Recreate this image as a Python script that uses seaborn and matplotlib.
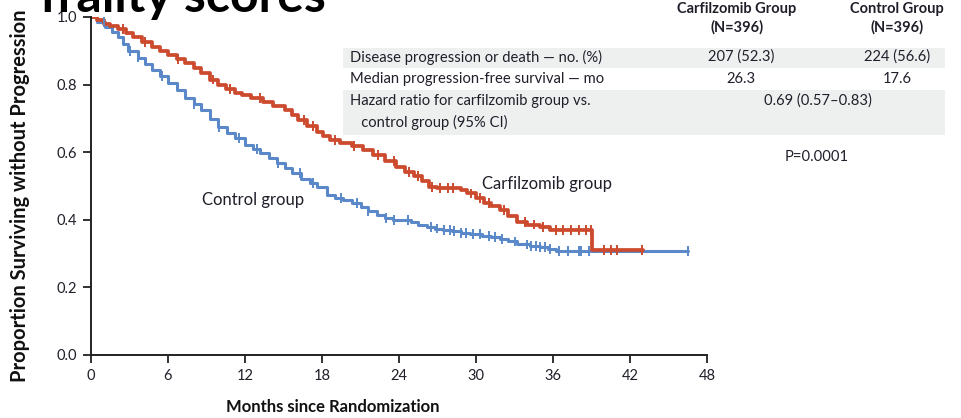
import numpy as np
import pandas as pd
import matplotlib
matplotlib.use("Agg")
import matplotlib.pyplot as plt
from matplotlib.patches import Rectangle
import seaborn as sns

# Kaplan-Meier step knots: months since randomization and survival proportion
carf_t = [0, 0.5, 1.0, 1.5, 2.1, 2.7, 3.3, 4.0, 4.75, 5.4, 6.0, 6.7, 7.3, 8.0, 8.6,
          9.3, 9.9, 10.5, 11.2, 11.8, 12.5, 13.4, 14.2, 15.1, 15.7, 16.1, 16.8,
          17.6, 18.1, 18.6, 19.4, 20.3, 21.2, 22.0, 22.9, 23.8, 24.5, 25.2, 25.8,
          26.3, 27.0, 27.5, 28.8, 29.3, 30.0, 30.6, 31.2, 31.9, 32.5, 33.2, 34.0,
          35.0, 35.8, 39.0, 43.0]
carf_s = [1.0, 0.99, 0.98, 0.972, 0.964, 0.952, 0.94, 0.926, 0.911, 0.899, 0.888,
          0.876, 0.864, 0.85, 0.835, 0.815, 0.80, 0.788, 0.776, 0.768, 0.76, 0.749,
          0.738, 0.725, 0.71, 0.695, 0.678, 0.66, 0.648, 0.636, 0.627, 0.618,
          0.606, 0.592, 0.575, 0.556, 0.542, 0.53, 0.515, 0.498, 0.495, 0.494,
          0.488, 0.478, 0.465, 0.45, 0.44, 0.429, 0.41, 0.393, 0.386, 0.378,
          0.37, 0.311, 0.311]

ctrl_t = [0, 0.5, 1.1, 1.6, 2.1, 2.5, 2.9, 3.7, 4.2, 4.75, 5.4, 6.0, 6.7, 7.3, 8.0,
          8.6, 9.3, 9.9, 10.6, 11.2, 12.0, 12.6, 13.2, 13.9, 14.5, 15.1, 15.7,
          16.4, 17.1, 17.6, 18.4, 19.0, 19.6, 20.3, 21.0, 21.6, 22.3, 22.9, 23.5,
          24.9, 25.5, 26.2, 26.8, 27.4, 28.1, 28.8, 29.5, 30.5, 31.2, 31.9, 32.5,
          33.2, 34.2, 35.0, 35.6, 36.2, 46.5]
ctrl_s = [1.0, 0.985, 0.97, 0.955, 0.94, 0.92, 0.90, 0.88, 0.862, 0.843, 0.825,
          0.805, 0.783, 0.76, 0.742, 0.725, 0.697, 0.675, 0.657, 0.642, 0.622,
          0.61, 0.598, 0.582, 0.568, 0.553, 0.538, 0.522, 0.509, 0.498, 0.473,
          0.465, 0.459, 0.449, 0.438, 0.426, 0.414, 0.405, 0.399, 0.393, 0.386,
          0.379, 0.374, 0.37, 0.366, 0.361, 0.358, 0.352, 0.348, 0.344, 0.336,
          0.327, 0.322, 0.32, 0.313, 0.307, 0.307]

# Censoring times (months)
carf_cens = [2.5, 4.2, 6.8, 9.5, 10.8, 13.2, 16.6, 17.3, 19.0, 20.5, 22.4, 23.6,
             24.8, 25.5, 26.6, 27.2, 27.8, 28.2, 29.6, 30.3, 31.0, 32.2, 33.8,
             34.5, 35.2, 36.2, 36.8, 37.4, 38.0, 38.6, 38.95, 40.0, 40.5, 41.0,
             42.9]
ctrl_cens = [1.0, 3.0, 3.7, 5.5, 8.0, 10.0, 11.5, 12.9, 14.6, 16.3, 17.3, 19.5,
             20.7, 21.6, 23.0, 23.6, 24.7, 26.5, 27.0, 27.5, 28.0, 28.3, 28.8,
             29.2, 29.8, 30.3, 31.0, 31.5, 32.0, 33.0, 34.0, 34.3, 34.7, 35.0,
             35.4, 35.8, 36.5, 37.2, 38.0, 38.2, 38.8, 46.5]

group_names = ["Carfilzomib group", "Control group"]
x_ticks = [0, 6, 12, 18, 24, 30, 36, 42, 48]
y_ticks = [0.0, 0.2, 0.4, 0.6, 0.8, 1.0]

table_header = ["Carfilzomib Group\n(N=396)", "Control Group\n(N=396)"]
table_rows = [
    ("Disease progression or death \u2014 no. (%)", "207 (52.3)", "224 (56.6)"),
    ("Median progression-free survival \u2014 mo", "26.3", "17.6"),
    ("Hazard ratio for carfilzomib group vs.\n   control group (95% CI)",
     "0.69 (0.57\u20130.83)", None),
]
p_value = "P=0.0001"

RED = "#cc4b2e"
BLUE = "#5a88c8"
INK = "#1f1f2a"

sns.set_style("ticks")
plt.rcParams["font.family"] = ["Lato", "DejaVu Sans"]

curves = pd.concat([
    pd.DataFrame({"months": ctrl_t, "surv": ctrl_s, "group": group_names[1]}),
    pd.DataFrame({"months": carf_t, "surv": carf_s, "group": group_names[0]}),
])


def step_value(times, surv, at):
    times = np.asarray(times)
    surv = np.asarray(surv)
    idx = np.searchsorted(times, at, side="right") - 1
    return surv[idx]


marks = pd.concat([
    pd.DataFrame({"months": ctrl_cens,
                  "surv": step_value(ctrl_t, ctrl_s, ctrl_cens),
                  "group": group_names[1]}),
    pd.DataFrame({"months": carf_cens,
                  "surv": step_value(carf_t, carf_s, carf_cens),
                  "group": group_names[0]}),
])

palette = {group_names[0]: RED, group_names[1]: BLUE}
widths = {group_names[0]: 2.7, group_names[1]: 2.2}

fig = plt.figure(figsize=(9.62, 4.18), dpi=100)
ax = fig.add_axes([91 / 962, 1 - 355 / 418, (707 - 91) / 962, (355 - 17) / 418])

for name in [group_names[1], group_names[0]]:
    sns.lineplot(data=curves[curves["group"] == name], x="months", y="surv",
                 color=palette[name], drawstyle="steps-post",
                 linewidth=widths[name], legend=False, ax=ax, estimator=None,
                 sort=False)
sns.scatterplot(data=marks, x="months", y="surv", hue="group", palette=palette,
                hue_order=[group_names[1], group_names[0]], marker="|", s=50,
                linewidth=1.4, legend=False, ax=ax, zorder=3)

ax.set_xlim(0, 48)
ax.set_ylim(0, 1.0)
ax.set_xticks(x_ticks)
ax.set_xticklabels([str(v) for v in x_ticks])
ax.set_yticks(y_ticks)
ax.set_yticklabels([f"{v:.1f}" for v in y_ticks])
ax.set_xlabel("")
ax.set_ylabel("")
sns.despine(ax=ax)
for side in ("left", "bottom"):
    ax.spines[side].set_linewidth(1.4)
    ax.spines[side].set_color("#222222")
ax.tick_params(axis="both", direction="out", length=6, width=1.3,
               labelsize=10.5, colors="#222222", labelcolor=INK, pad=4)
ax.patch.set_alpha(0)

# curve labels
ax.text(12.6, 0.458, "Control group", fontsize=12, color=INK,
        ha="center", va="center")
ax.text(35.5, 0.506, "Carfilzomib group", fontsize=12, color=INK,
        ha="center", va="center")

# axis titles
fig.text(333 / 962, 1 - 407 / 418, "Months since Randomization", fontsize=12,
         fontweight="bold", color="#111111", ha="center", va="center")
fig.text(20 / 962, 1 - 196 / 418, "Proportion Surviving without Progression",
         fontsize=14.5, fontweight="bold", color="#111111", ha="center",
         va="center", rotation=90)

# heading running off the top edge
fig.text(40 / 962, 1 - 12 / 418, "frailty scores", fontsize=36, fontweight="bold",
         color="black", ha="left", va="baseline")

# summary table
W, H = 962, 418


def fx(px):
    return px / W


def fy(py):
    return 1 - py / H


for top, bottom in [(48, 68), (90, 135)]:
    fig.patches.append(Rectangle((fx(343), fy(bottom)), fx(945) - fx(343),
                                 fy(top) - fy(bottom), transform=fig.transFigure,
                                 facecolor="#eef0f0", edgecolor="none", zorder=0))

fig.text(fx(737), fy(18), table_header[0], fontsize=10.5, fontweight="bold",
         color=INK, ha="center", va="center", linespacing=1.35)
fig.text(fx(897), fy(18), table_header[1], fontsize=10.5, fontweight="bold",
         color=INK, ha="center", va="center", linespacing=1.35)

row_y = [57, 79, 112]
for (label, v1, v2), yy in zip(table_rows, row_y):
    fig.text(fx(350), fy(yy), label, fontsize=10.6, color=INK, ha="left",
             va="center", linespacing=1.65)
    if v2 is None:
        fig.text(fx(818), fy(101), v1, fontsize=10.6, color=INK, ha="center",
                 va="center")
    else:
        fig.text(fx(741), fy(yy), v1, fontsize=10.6, color=INK, ha="center",
                 va="center")
        fig.text(fx(897), fy(yy), v2, fontsize=10.6, color=INK, ha="center",
                 va="center")

fig.text(fx(817), fy(157), p_value, fontsize=10.6, color=INK, ha="center",
         va="center")

fig.savefig("out.png", dpi=100)
